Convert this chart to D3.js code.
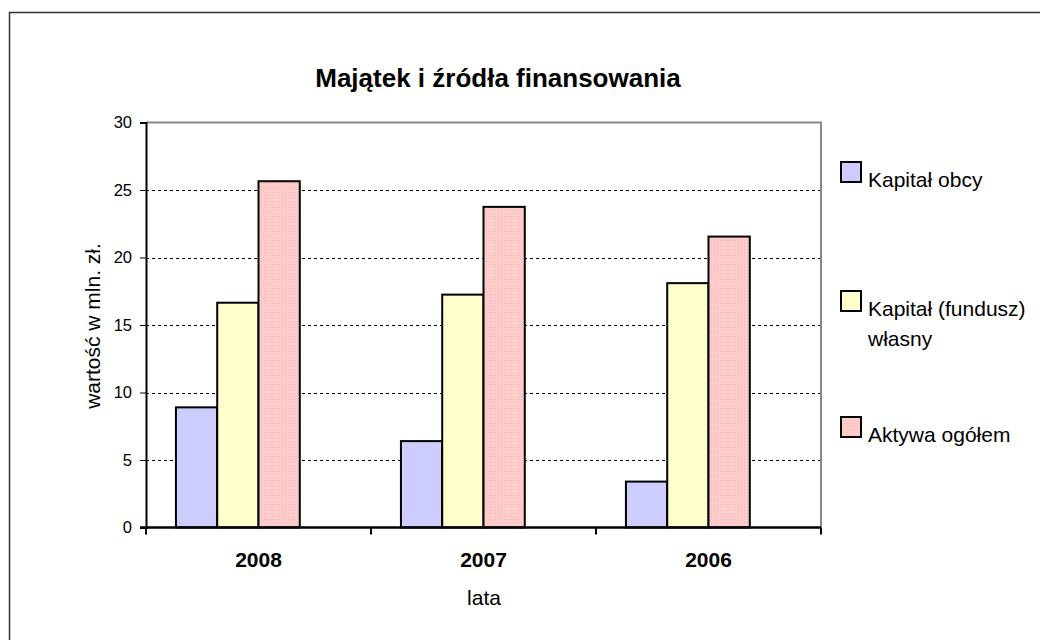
<!DOCTYPE html>
<html>
<head>
<meta charset="utf-8">
<script src="https://cdn.jsdelivr.net/npm/d3@7"></script>
<style>
  body { margin: 0; background: #fff; }
  text { font-family: "Liberation Sans", Arial, sans-serif; fill: #000; }
</style>
</head>
<body>
<div id="chart"></div>
<script>
// lata na osi x, wartość w mln zł na osi y
var years = ["2008", "2007", "2006"]
var seriesNames = ["Kapitał obcy", "Kapitał (fundusz) własny", "Aktywa ogółem"]
var kapitalObcy = [8.9, 6.4, 3.4]
var kapitalWlasny = [16.65, 17.25, 18.1]
var aktywaOgolem = [25.65, 23.75, 21.55]
var yTicks = [0, 5, 10, 15, 20, 25, 30]

var seriesValues = [kapitalObcy, kapitalWlasny, aktywaOgolem]
var colors = ["#CCCCFF", "#FFFFCC", "url(#dots)"]

var svg = d3.select("#chart").append("svg")
    .attr("width", 1040)
    .attr("height", 640)

// dotted fill for the pink series
var pat = svg.append("defs").append("pattern")
    .attr("id", "dots")
    .attr("width", 3).attr("height", 3)
    .attr("patternUnits", "userSpaceOnUse")
pat.append("rect").attr("width", 3).attr("height", 3).attr("fill", "#FFCCCC")
pat.append("rect").attr("width", 1).attr("height", 1).attr("fill", "#F5B8B8")

// outer chart frame (only left and top visible in the picture)
svg.append("rect")
    .attr("x", 9.5).attr("y", 12.5)
    .attr("width", 1100).attr("height", 700)
    .attr("fill", "none")
    .attr("stroke", "#333")
    .attr("stroke-width", 1.5)

var plot = { left: 146, right: 821, top: 122.5, bottom: 527.5 }

var x = d3.scaleBand()
    .domain(years)
    .range([plot.left, plot.right])

// Excel leaves an empty 4th slot in each group, so bars sit to the left
var x1 = d3.scaleBand()
    .domain(seriesNames.concat(["_pusta"]))
    .range([0, x.bandwidth()])
    .paddingOuter(0.725)

var y = d3.scaleLinear()
    .domain([0, 30])
    .range([plot.bottom, plot.top])

// gridlines
svg.append("g")
    .selectAll("line")
    .data(yTicks.filter(function (d) { return d > 0 && d < 30 }))
    .enter()
    .append("line")
    .attr("x1", plot.left).attr("x2", plot.right)
    .attr("y1", function (d) { return Math.round(y(d)) + 0.5 })
    .attr("y2", function (d) { return Math.round(y(d)) + 0.5 })
    .attr("stroke", "#000")
    .attr("stroke-dasharray", "3,3")

// gray top and right border of plot area
svg.append("path")
    .attr("d", "M" + plot.left + "," + plot.top + "H" + plot.right + "V" + plot.bottom)
    .attr("fill", "none")
    .attr("stroke", "#888")
    .attr("stroke-width", 2)

// bars
for (var s = 0; s < seriesNames.length; s++) {
    svg.append("g")
        .selectAll("rect")
        .data(seriesValues[s])
        .enter()
        .append("rect")
        .attr("x", function (d, i) { return x(years[i]) + x1(seriesNames[s]) })
        .attr("y", function (d) { return y(d) })
        .attr("width", x1.bandwidth())
        .attr("height", function (d) { return y(0) - y(d) })
        .attr("fill", colors[s])
        .attr("stroke", "#000")
        .attr("stroke-width", 2)
}

// y axis
var yAxis = svg.append("g")
    .attr("transform", "translate(" + plot.left + ",0)")
    .call(d3.axisLeft(y).tickValues(yTicks).tickSize(6).tickPadding(8))
yAxis.select(".domain").attr("stroke-width", 2)
yAxis.selectAll("text").style("font-size", "16.5px").style("font-family", "Liberation Sans, Arial")

// x axis with ticks between categories
var xAxis = svg.append("g")
    .attr("transform", "translate(0," + plot.bottom + ")")
xAxis.append("line")
    .attr("x1", plot.left - 6).attr("x2", plot.right)
    .attr("stroke", "#000").attr("stroke-width", 2.5)
xAxis.selectAll(".sep")
    .data(years.concat(["end"]))
    .enter()
    .append("line")
    .attr("x1", function (d, i) { return plot.left + i * x.step() })
    .attr("x2", function (d, i) { return plot.left + i * x.step() })
    .attr("y1", 0).attr("y2", 7)
    .attr("stroke", "#000").attr("stroke-width", 2)
xAxis.selectAll(".lbl")
    .data(years)
    .enter()
    .append("text")
    .attr("x", function (d) { return x(d) + x.bandwidth() / 2 })
    .attr("y", 39)
    .attr("text-anchor", "middle")
    .style("font-size", "21px")
    .style("font-weight", "bold")
    .text(function (d) { return d })

// titles
svg.append("text")
    .attr("x", 498).attr("y", 87)
    .attr("text-anchor", "middle")
    .style("font-size", "26px")
    .style("font-weight", "bold")
    .text("Majątek i źródła finansowania")

svg.append("text")
    .attr("x", 484).attr("y", 605)
    .attr("text-anchor", "middle")
    .style("font-size", "21px")
    .text("lata")

svg.append("text")
    .attr("transform", "translate(100,326) rotate(-90)")
    .attr("text-anchor", "middle")
    .style("font-size", "21px")
    .text("wartość w mln. zł.")

// legend
var legendRows = [
    { y: 162, lines: ["Kapitał obcy"] },
    { y: 291, lines: ["Kapitał (fundusz)", "własny"] },
    { y: 417, lines: ["Aktywa ogółem"] }
]
var legend = svg.append("g")
for (var k = 0; k < legendRows.length; k++) {
    legend.append("rect")
        .attr("x", 841).attr("y", legendRows[k].y)
        .attr("width", 20).attr("height", 20)
        .attr("fill", colors[k])
        .attr("stroke", "#000").attr("stroke-width", 2)
    var t = legend.append("text")
        .attr("x", 868).attr("y", legendRows[k].y + 25)
        .style("font-size", "21px")
    legendRows[k].lines.forEach(function (line, j) {
        t.append("tspan").attr("x", 868).attr("dy", j == 0 ? 0 : 30).text(line)
    })
}
</script>
</body>
</html>
